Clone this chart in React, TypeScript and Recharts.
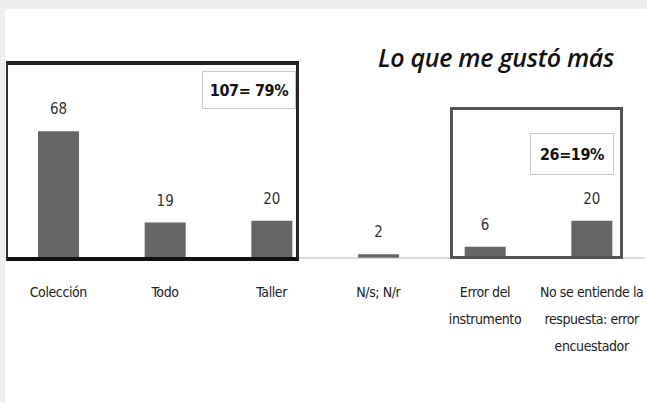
import { BarChart, Bar, XAxis, YAxis, LabelList } from 'recharts';

const categories = [
  'Colección',
  'Todo',
  'Taller',
  'N/s; N/r',
  'Error del instrumento',
  'No se entiende la respuesta: error encuestador',
];
const tickLines = [
  ['Colección'],
  ['Todo'],
  ['Taller'],
  ['N/s; N/r'],
  ['Error del', 'instrumento'],
  ['No se entiende la', 'respuesta: error', 'encuestador'],
];
const values = [68, 19, 20, 2, 6, 20];
const title = 'Lo que me gustó más';
const groupLabels = ['107= 79%', '26=19%'];

const data = categories.map((name, i) => ({ name, value: values[i] }));

const FONT = "'Liberation Sans Narrow', 'DejaVu Sans Condensed', 'Noto Sans', sans-serif";

const Tick = (props: any) => {
  const { x, y, payload } = props;
  const lines = tickLines[payload.index] || [payload.value];
  return (
    <text
      x={x}
      y={y}
      textAnchor="middle"
      fill="#222"
      fontSize={14}
      letterSpacing={-0.4}
      fontFamily={FONT}
    >
      {lines.map((l, i) => (
        <tspan key={i} x={x} dy={i === 0 ? 31 : 27}>
          {l}
        </tspan>
      ))}
    </text>
  );
};

const boxLabel: React.CSSProperties = {
  position: 'absolute',
  border: '1px solid #c8c8c8',
  background: '#fff',
  display: 'flex',
  alignItems: 'center',
  justifyContent: 'center',
  fontFamily: FONT,
  fontWeight: 'bold',
  fontSize: 16,
  letterSpacing: -0.4,
  color: '#111',
};

const App: React.FC = () => {
  return (
    <div style={{ position: 'relative', width: 647, height: 403, background: '#efefef', overflow: 'hidden' }}>
      <style>{'body{margin:0}'}</style>
      <div style={{ position: 'absolute', left: 5, top: 9, right: 0, bottom: 0, background: '#fff' }} />
      <div style={{ position: 'absolute', left: 0, top: 0 }}>
        <BarChart width={647} height={403} data={data} margin={{ top: 109, right: 2, bottom: 0, left: 5 }}>
          <XAxis
            dataKey="name"
            interval={0}
            tickLine={false}
            axisLine={{ stroke: '#b5b5b5' }}
            height={145}
            tick={<Tick />}
          />
          <YAxis hide domain={[0, 80]} />
          <Bar dataKey="value" fill="#666666" barSize={41} isAnimationActive={false}>
            <LabelList
              dataKey="value"
              position="top"
              offset={17}
              fill="#333"
              fontSize={15}
              fontFamily={FONT}
            />
          </Bar>
        </BarChart>
      </div>
      {/* left group box */}
      <div
        style={{
          position: 'absolute',
          left: 6,
          top: 61,
          width: 288,
          height: 192,
          borderTop: '4px solid #222',
          borderRight: '3px solid #222',
          borderBottom: '4px solid #111',
          borderLeft: '2px solid #333',
        }}
      />
      {/* right group box */}
      <div
        style={{
          position: 'absolute',
          left: 450,
          top: 107,
          width: 167,
          height: 146,
          border: '3px solid #555',
        }}
      />
      <div style={{ ...boxLabel, left: 202, top: 71, width: 92, height: 36 }}>{groupLabels[0]}</div>
      <div style={{ ...boxLabel, left: 530, top: 133, width: 82, height: 40 }}>{groupLabels[1]}</div>
      <div
        style={{
          position: 'absolute',
          left: 376,
          top: 40,
          width: 240,
          textAlign: 'center',
          fontFamily: "'Open Sans', sans-serif",
          fontStyle: 'italic',
          fontWeight: 600,
          fontSize: 25,
          lineHeight: '34px',
          letterSpacing: -0.3,
          color: '#111',
          whiteSpace: 'nowrap',
        }}
      >
        {title}
      </div>
    </div>
  );
};

export default App;
